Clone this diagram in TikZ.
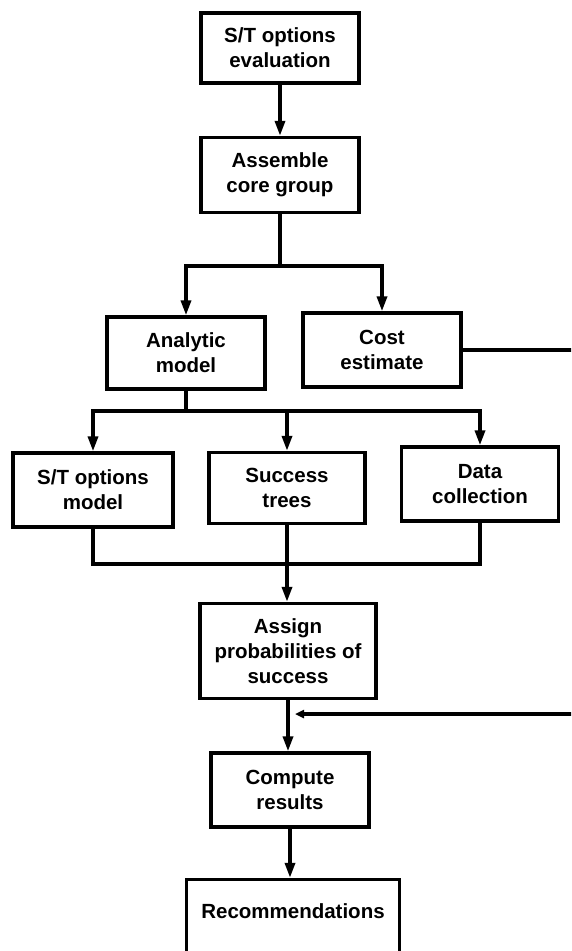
\documentclass[tikz,border=0pt]{standalone}
\usepackage{fontspec}
\setmainfont{Liberation Sans}
\usetikzlibrary{arrows.meta}

\begin{document}
\begin{tikzpicture}[
  x=1pt, y=-1pt,
  >={Triangle[length=15pt,width=10pt]},
  link/.style={line width=3.4pt},
  procbox/.style={draw, line width=3.4pt, align=center, inner sep=0pt,
    minimum width=158pt, minimum height=74pt,
    font=\bfseries\fontsize{20.5}{25}\selectfont}
]
  \clip (0,0) rectangle (571,951);

  % Top of the chain
  \node[procbox, minimum height=70pt] (eval) at (280,48) {S/T options\\evaluation};
  \node[procbox, minimum height=75pt] (assemble) at (280,175) {Assemble\\core group};

  % Second level
  \node[procbox, minimum height=72pt] (analytic) at (186,353) {Analytic\\model};
  \node[procbox] (cost) at (382,350) {Cost\\estimate};

  % Third level
  \node[procbox, minimum width=160pt] (stmodel) at (93,490) {S/T options\\model};
  \node[procbox, minimum width=156pt, minimum height=71pt] (success) at (287,488) {Success\\trees};
  \node[procbox, minimum width=157pt] (data) at (480,484) {Data\\collection};

  % Bottom of the chain
  \node[procbox, minimum width=176pt, minimum height=95pt] (assign) at (288,651) {Assign\\probabilities of\\success};
  \node[procbox] (compute) at (290,790) {Compute\\results};
  \node[procbox, minimum width=213pt, minimum height=85pt, text depth=22pt] (recom) at (293,922) {Recommendations};

  \coordinate (split1) at (280,266);
  \coordinate (split2) at (186,411);
  \coordinate (merge) at (287,564);
  \coordinate (fbin) at (295,714);

  \draw[link, ->] (eval) -- (assemble);
  \draw[link] (assemble.south) -- (split1);
  \draw[link, ->] (split1) -| (analytic.north);
  \draw[link, ->] (split1) -| (cost.north);

  \draw[link] (analytic.south) -- (split2);
  \draw[link, ->] (split2) -| (stmodel.north);
  \draw[link, ->] (split2) -| (success.north);
  \draw[link, ->] (split2) -| (data.north);

  \draw[link] (stmodel.south) |- (merge) -| (data.south);
  \draw[link, ->] (success.south) -- (success.south |- assign.north);
  \draw[link, ->] (assign.south) -- (assign.south |- compute.north);
  \draw[link, ->] (compute.south) -- (compute.south |- recom.north);

  % cost feeds back in below the probabilities
  \draw[link, ->, >={Triangle[length=9pt,width=8pt]}] (cost.east) -- ++(150pt,0) |- (fbin);
\end{tikzpicture}
\end{document}
